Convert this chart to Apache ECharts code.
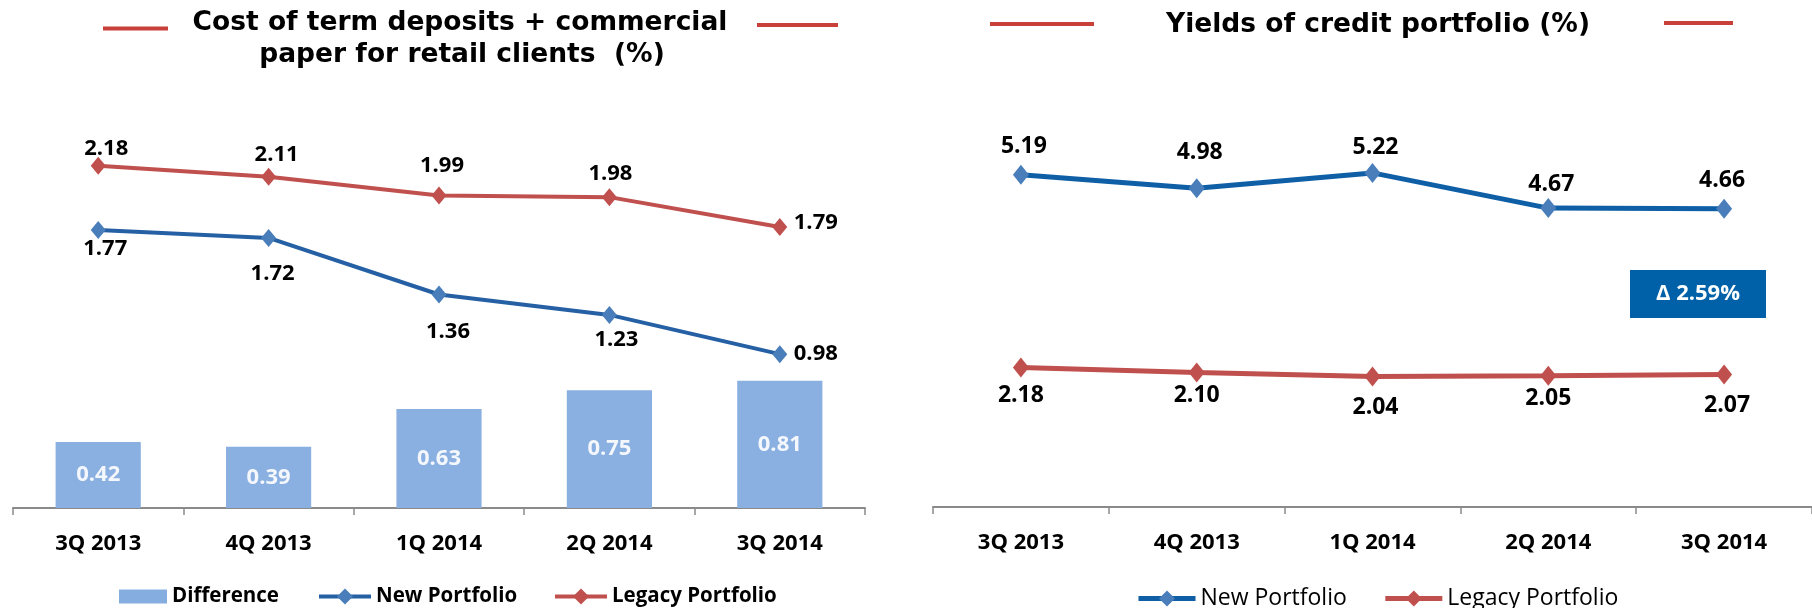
<!DOCTYPE html>
<html>
<head>
<meta charset="utf-8">
<script src="https://cdn.jsdelivr.net/npm/echarts@6.0.0/dist/echarts.min.js"></script>
<style>
  html, body { margin: 0; padding: 0; background: #ffffff; }
  #chart { width: 1812px; height: 608px; }
</style>
</head>
<body>
<div id="chart"></div>
<script>
// ---- data ----
const categories = ['3Q 2013', '4Q 2013', '1Q 2014', '2Q 2014', '3Q 2014'];
const costDifference = [0.42, 0.39, 0.63, 0.75, 0.81];
const costNew = [1.77, 1.72, 1.36, 1.23, 0.98];
const costLegacy = [2.18, 2.11, 1.99, 1.98, 1.79];
const yieldNew = [5.19, 4.98, 5.22, 4.67, 4.66];
const yieldLegacy = [2.18, 2.10, 2.04, 2.05, 2.07];
const leftTitle = ['Cost of term deposits + commercial', 'paper for retail clients  (%)'];
const rightTitle = 'Yields of credit portfolio (%)';
const deltaText = 'Δ 2.59%';

// ---- label placement (style, kept apart from the data) ----
const costLegacyLabelOffset = [[8, -17], [8, -22], [3, -30], [1, -23], [36, -4]];
const costNewLabelOffset = [[7, 19], [4, 36], [9, 37], [7, 25], [36, 0]];
const yieldNewLabelOffset = [[3, -28], [3, -36], [3, -25], [3, -24], [-2, -28]];
const yieldLegacyLabelOffset = [[0, 28], [0, 23], [3, 31], [0, 23], [3, 31]];

const FONT = '"Open Sans", "Liberation Sans", sans-serif';
const TITLE_FONT = '"DejaVu Sans", Verdana, sans-serif';

function withLabels(values, offsets) {
  return values.map((v, i) => ({
    value: v,
    label: { offset: offsets[i] }
  }));
}
const fmt = p => Number(p.value).toFixed(2);
const lineLabel = {
  show: true, position: 'inside', formatter: fmt,
  fontFamily: FONT, fontWeight: 'bold', fontSize: 22, color: '#000000'
};

const chart = echarts.init(document.getElementById('chart'), null, { renderer: 'canvas' });

const axisCommon = {
  type: 'category',
  data: categories,
  boundaryGap: true,
  axisLine: { lineStyle: { color: '#8a8a8a', width: 2 } },
  axisTick: { show: true, length: 7, lineStyle: { color: '#8a8a8a', width: 1.5 } },
  axisLabel: { fontFamily: FONT, fontWeight: 'bold', fontSize: 22, color: '#000000', margin: 25 }
};

const leftLegendText = { fontFamily: FONT, fontWeight: 'bold', fontSize: 20.5, color: '#000000' };
const rightLegendText = { fontFamily: FONT, fontWeight: 'normal', fontSize: 23, color: '#000000' };

const option = {
  backgroundColor: '#ffffff',
  animation: false,
  grid: [
    { left: 13, top: 37, width: 852, height: 471 },
    { left: 933, top: 123, width: 885, height: 384 }
  ],
  xAxis: [
    Object.assign({ gridIndex: 0 }, axisCommon),
    Object.assign({ gridIndex: 1 }, axisCommon)
  ],
  yAxis: [
    { gridIndex: 0, type: 'value', min: 0, max: 3, show: false, splitLine: { show: false } },
    { gridIndex: 1, type: 'value', min: 0, max: 6, show: false, splitLine: { show: false } }
  ],
  legend: [
    {
      left: 114, top: 581, itemWidth: 48, itemHeight: 14, textStyle: leftLegendText,
      data: [{ name: 'Difference', icon: 'rect', itemStyle: { color: '#86ADE0' } }]
    },
    {
      left: 312, top: 581, itemWidth: 52, itemHeight: 20, textStyle: leftLegendText,
      data: [{ name: 'New Portfolio', itemStyle: { color: '#4A7EBB' }, lineStyle: { color: '#2660A4', width: 4 } }]
    },
    {
      left: 548, top: 581, itemWidth: 52, itemHeight: 20, textStyle: leftLegendText,
      data: [{ name: 'Legacy Portfolio', itemStyle: { color: '#C0504D' }, lineStyle: { color: '#C0504D', width: 4 } }]
    },
    {
      left: 1131, top: 582, itemWidth: 57, itemHeight: 20, itemGap: 36, textStyle: rightLegendText,
      data: [
        { name: 'New Portfolio', itemStyle: { color: '#4A7EBB' }, lineStyle: { color: '#0F5FA6', width: 5 } },
        { name: 'Legacy Portfolio', itemStyle: { color: '#C0504D' }, lineStyle: { color: '#C0504D', width: 5 } }
      ]
    }
  ],
  series: [
    {
      name: 'Difference', type: 'bar', xAxisIndex: 0, yAxisIndex: 0,
      data: costDifference, barWidth: '50%',
      itemStyle: { color: '#8AB0E1' },
      label: { show: true, position: 'inside', formatter: fmt, fontFamily: FONT, fontWeight: 'bold', fontSize: 22, color: '#F4F7FC' },
      z: 1
    },
    {
      name: 'New Portfolio', type: 'line', xAxisIndex: 0, yAxisIndex: 0,
      data: withLabels(costNew, costNewLabelOffset),
      symbol: 'diamond', symbolSize: [15, 18],
      lineStyle: { color: '#2660A4', width: 4 },
      itemStyle: { color: '#4A7EBB' },
      label: lineLabel, z: 3
    },
    {
      name: 'Legacy Portfolio', type: 'line', xAxisIndex: 0, yAxisIndex: 0,
      data: withLabels(costLegacy, costLegacyLabelOffset),
      symbol: 'diamond', symbolSize: [15, 18],
      lineStyle: { color: '#C0504D', width: 4 },
      itemStyle: { color: '#C0504D' },
      label: lineLabel, z: 3
    },
    {
      name: 'New Portfolio', type: 'line', xAxisIndex: 1, yAxisIndex: 1,
      data: withLabels(yieldNew, yieldNewLabelOffset),
      symbol: 'diamond', symbolSize: [16, 20],
      lineStyle: { color: '#0F5FA6', width: 5 },
      itemStyle: { color: '#4A7EBB' },
      label: Object.assign({}, lineLabel, { fontSize: 23 }), z: 3
    },
    {
      name: 'Legacy Portfolio', type: 'line', xAxisIndex: 1, yAxisIndex: 1,
      data: withLabels(yieldLegacy, yieldLegacyLabelOffset),
      symbol: 'diamond', symbolSize: [16, 20],
      lineStyle: { color: '#C0504D', width: 5 },
      itemStyle: { color: '#C0504D' },
      label: Object.assign({}, lineLabel, { fontSize: 23 }), z: 3
    }
  ],
  graphic: [
    { type: 'text', x: 460, y: 23, style: { text: leftTitle[0], textAlign: 'center', textVerticalAlign: 'middle', font: 'bold 26.5px ' + TITLE_FONT, fill: '#000000' } },
    { type: 'text', x: 462, y: 55, style: { text: leftTitle[1], textAlign: 'center', textVerticalAlign: 'middle', font: 'bold 26.5px ' + TITLE_FONT, fill: '#000000' } },
    { type: 'text', x: 1378, y: 25, style: { text: rightTitle, textAlign: 'center', textVerticalAlign: 'middle', font: 'bold 26.5px ' + TITLE_FONT, fill: '#000000' } },
    { type: 'line', shape: { x1: 103, y1: 28.5, x2: 168, y2: 28.5 }, style: { stroke: '#C9403B', lineWidth: 4 } },
    { type: 'line', shape: { x1: 757, y1: 25, x2: 838, y2: 25 }, style: { stroke: '#C9403B', lineWidth: 4 } },
    { type: 'line', shape: { x1: 990, y1: 24, x2: 1094, y2: 24 }, style: { stroke: '#C9403B', lineWidth: 4 } },
    { type: 'line', shape: { x1: 1664, y1: 23, x2: 1733, y2: 23 }, style: { stroke: '#C9403B', lineWidth: 4 } },
    { type: 'rect', shape: { x: 1630, y: 270, width: 136, height: 48 }, style: { fill: '#0060A8' } },
    { type: 'text', x: 1698, y: 294, style: { text: deltaText, textAlign: 'center', textVerticalAlign: 'middle', font: 'bold 22px ' + FONT, fill: '#ffffff' } }
  ]
};

chart.setOption(option);
</script>
</body>
</html>
